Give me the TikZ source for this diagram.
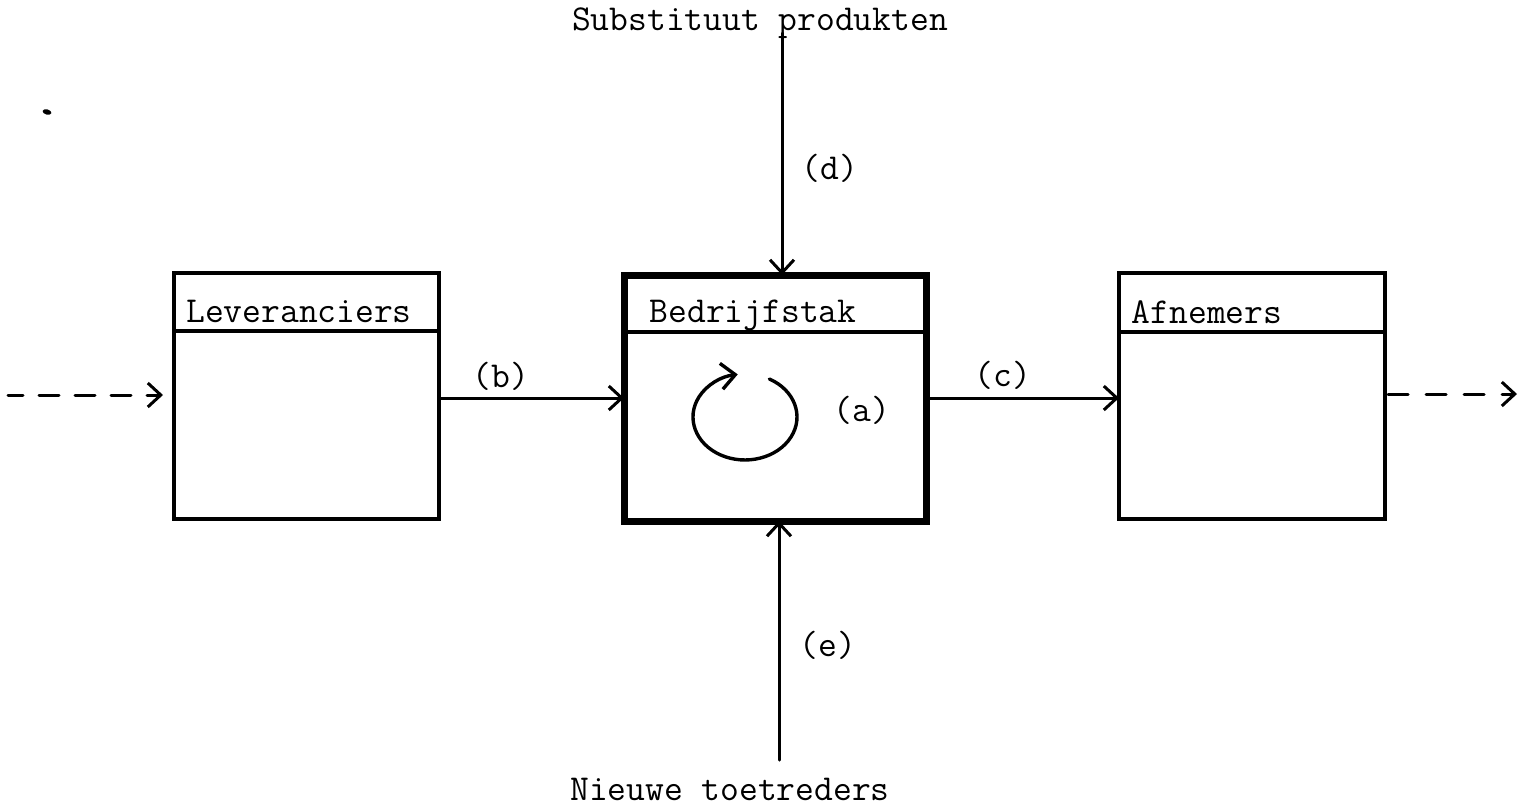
\documentclass[tikz,border=0pt]{standalone}
\usetikzlibrary{arrows.meta}
\begin{document}
\begin{tikzpicture}[x=1pt,y=-1pt,
  font=\ttfamily\fontsize{36.5}{40}\selectfont,
  box/.style={draw, line width=3.2pt, inner sep=0pt, outer sep=0pt, minimum height=246pt},
  mainbox/.style={box, line width=7pt},
  divider/.style={line width=3.2pt},
  conn/.style={line width=3pt, line cap=round, -{Straight Barb[length=13pt,width=24pt]}},
  flow/.style={conn, dash pattern=on 20pt off 16pt},
  lbl/.style={anchor=base, inner sep=0pt}
]
% page
\fill[white] (0,0) rectangle (1529,807);
\useasboundingbox (0,0) rectangle (1529,807);

% the three blocks
\node[box, minimum width=265pt] (lev) at (306.5,396) {};
\node[mainbox, minimum width=302pt] (bed) at (775,398) {};
\node[box, minimum width=266pt] (afn) at (1252,396) {};

% header strips
\draw[divider] (lev.west |- 0,331) -- (lev.east |- 0,331);
\draw[line width=4.5pt] (bed.west |- 0,332) -- (bed.east |- 0,332);
\draw[divider] (afn.west |- 0,332) -- (afn.east |- 0,332);

\node[lbl] (levt) at (299,322) {Leveranciers};
\node[lbl] (bedt) at (753,322) {Bedrijfstak};
\node[lbl] (afnt) at (1207,323) {Afnemers};

% outer texts
\node[lbl] (subst) at (760,30) {Substituut produkten};
\node[lbl] (nieuw) at (730,800) {Nieuwe toetreders};

% free ends of the connectors
\coordinate (dtop) at (782,33);
\coordinate (ebot) at (779,760);
\coordinate (inL) at (8,395);
\coordinate (inR) at (163,395);
\coordinate (outL) at (1388,394);
\coordinate (outR) at (1517,394);

% connectors
\draw[conn] (lev.east |- bed.west) -- (bed.west);
\draw[conn] (bed.east) -- (afn.west |- bed.east);
\draw[conn] (dtop) -- (dtop |- bed.north);
\draw[conn] (ebot) -- (ebot |- bed.south);
\draw[flow, dash phase=5pt] (inL) -- (inR);
\draw[flow, dash pattern=on 20pt off 18pt] (outL) -- (outR);

% connector labels
\node[lbl] (lb) at (501,387) {(b)};
\node[lbl] (lc) at (1003,386) {(c)};
\node[lbl] (ld) at (830,179) {(d)};
\node[lbl] (le) at (828,656) {(e)};
\node[lbl] (la) at (862,421) {(a)};

% internal cycle
\draw[line width=3.4pt, line cap=round, -{Straight Barb[length=14pt,width=26pt]}]
  (769.4,379) arc[start angle=-62, end angle=262, x radius=52, y radius=43];

% ink spot
\fill[rotate around={-15:(47,112)}] (47,112) ellipse[x radius=4.5, y radius=2.6];
\end{tikzpicture}
\end{document}
